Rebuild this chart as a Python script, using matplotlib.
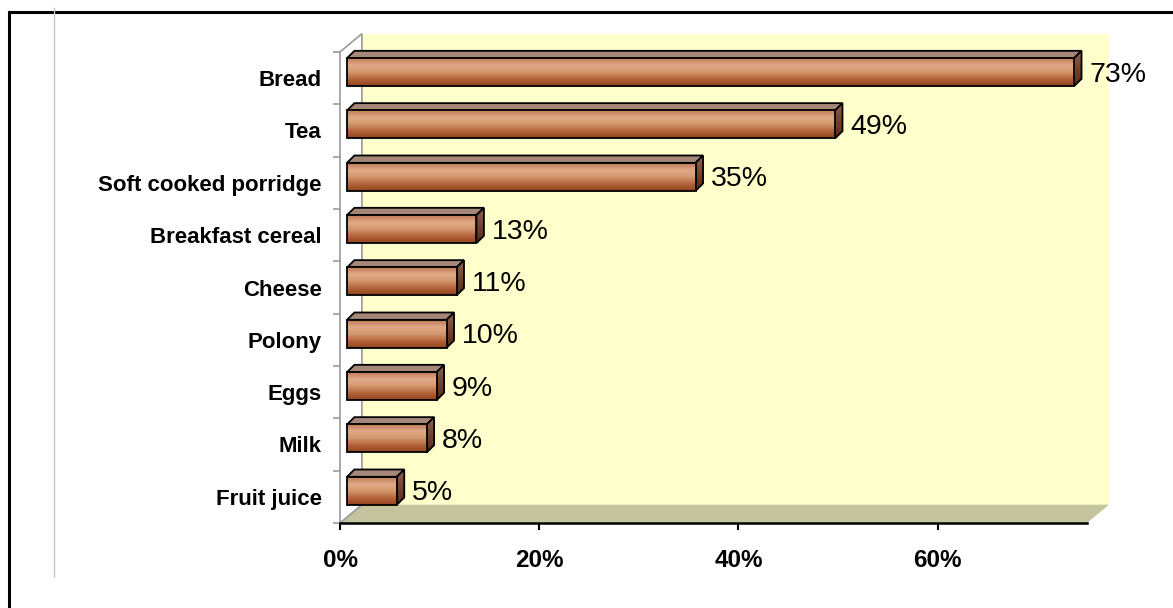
import numpy as np
import matplotlib
matplotlib.use("Agg")
import matplotlib.pyplot as plt
from matplotlib.colors import LinearSegmentedColormap
from matplotlib.patches import Polygon, Rectangle
from matplotlib.lines import Line2D

plt.rcParams["font.family"] = ["Liberation Sans", "DejaVu Sans"]

# breakfast items, top to bottom
items = ["Bread", "Tea", "Soft cooked porridge", "Breakfast cereal", "Cheese",
         "Polony", "Eggs", "Milk", "Fruit juice"]
shares = [73, 49, 35, 13, 11, 10, 9, 8, 5]
xticks = [0, 20, 40, 60]
xmax = 75

# 3d look: wall depth, bar offset into the box and bar depth (data units)
wall_dx, wall_dy = 2.2, 0.35
bar_dx, bar_dy = 0.7, 0.115
depth_dx, depth_dy = 0.75, 0.14
bar_h = 0.535

front_cmap = LinearSegmentedColormap.from_list(
    "front", ["#c07a56", "#e0aa88", "#d4986f", "#b3643a", "#94441e"])
side_cmap = LinearSegmentedColormap.from_list(
    "side", ["#8e6450", "#74452d", "#552b16"])
grad = np.linspace(0, 1, 64).reshape(-1, 1)

fig = plt.figure(figsize=(11.73, 6.08), dpi=100)
ax = fig.add_axes([340 / 1173, 85 / 608, 747 / 1173, 471 / 608])
ax.set_xlim(0, xmax)
ax.set_ylim(-0.5, len(items) - 0.5)
ax.set_autoscale_on(False)
ax.patch.set_visible(False)

y0, y1 = -0.5, len(items) - 0.5

# back wall, floor and left wall
ax.add_patch(Rectangle((wall_dx, y0 + wall_dy), xmax, y1 - y0,
                       facecolor="#ffffcc", edgecolor="none", zorder=0, clip_on=False))
ax.add_patch(Polygon([(0, y0), (xmax, y0), (xmax + wall_dx, y0 + wall_dy),
                      (wall_dx, y0 + wall_dy)],
                     facecolor="#c4c49e", edgecolor="none", zorder=0.5, clip_on=False))
ax.add_patch(Polygon([(0, y0), (0, y1), (wall_dx, y1 + wall_dy), (wall_dx, y0 + wall_dy)],
                     facecolor="white", edgecolor="#9a9a9a", lw=1.2, zorder=0.6,
                     clip_on=False))

for i, (name, v) in enumerate(zip(items, shares)):
    yc = len(items) - 1 - i
    fx0, fx1 = bar_dx, bar_dx + v
    fy0, fy1 = yc + bar_dy - bar_h / 2, yc + bar_dy + bar_h / 2
    z = 3 + i * 0.01

    # top face
    ax.add_patch(Polygon([(fx0, fy1), (fx1, fy1), (fx1 + depth_dx, fy1 + depth_dy),
                          (fx0 + depth_dx, fy1 + depth_dy)],
                         facecolor="#a5877a", edgecolor="black", lw=1.3, zorder=z,
                         clip_on=False))
    # side face
    side = Polygon([(fx1, fy0), (fx1, fy1), (fx1 + depth_dx, fy1 + depth_dy),
                    (fx1 + depth_dx, fy0 + depth_dy)],
                   facecolor="none", edgecolor="black", lw=1.3, zorder=z + 0.002,
                   clip_on=False)
    ax.add_patch(side)
    im = ax.imshow(grad, cmap=side_cmap, aspect="auto", interpolation="bicubic",
                   extent=[fx1, fx1 + depth_dx, fy0, fy1 + depth_dy], zorder=z + 0.001)
    im.set_clip_path(side)
    # front face
    ax.imshow(grad, cmap=front_cmap, aspect="auto", interpolation="bicubic",
              extent=[fx0, fx1, fy0, fy1], zorder=z + 0.003)
    ax.add_patch(Rectangle((fx0, fy0), v, bar_h, facecolor="none", edgecolor="black",
                           lw=1.3, zorder=z + 0.004, clip_on=False))

    ax.text(fx1 + depth_dx + 0.8, yc + bar_dy - 0.05, f"{v}%", fontsize=20.5,
            va="center", ha="left", zorder=5)

# axes: black x axis on the front edge, gray ticks on the left wall
for s in ["top", "right", "left"]:
    ax.spines[s].set_visible(False)
ax.spines["bottom"].set_color("black")
ax.spines["bottom"].set_linewidth(1.8)
ax.spines["bottom"].set_zorder(6)

ax.set_xticks(xticks)
ax.set_xticklabels([f"{t}%" for t in xticks], fontsize=17.5, fontweight="bold")
ax.tick_params(axis="x", length=5, width=1.5, color="black", pad=14)

ax.set_yticks(range(len(items)))
ax.set_yticklabels(items[::-1], fontsize=16, fontweight="bold")
ax.tick_params(axis="y", which="major", length=0, pad=13)
ax.set_yticks(np.arange(-0.5, len(items)), minor=True)
ax.tick_params(axis="y", which="minor", length=5, width=1.2, color="#9a9a9a")

# frame around the chart area
fig.add_artist(Line2D([9 / 1173, 9 / 1173], [0, 1 - 12 / 608], color="black", lw=2.2))
fig.add_artist(Line2D([9 / 1173, 1], [1 - 12 / 608, 1 - 12 / 608], color="black", lw=2.2))
fig.add_artist(Line2D([54 / 1173, 54 / 1173], [1 - 577 / 608, 1 - 8 / 608],
                      color="#c8c8c8", lw=1))

fig.savefig("out.png", dpi=100)
